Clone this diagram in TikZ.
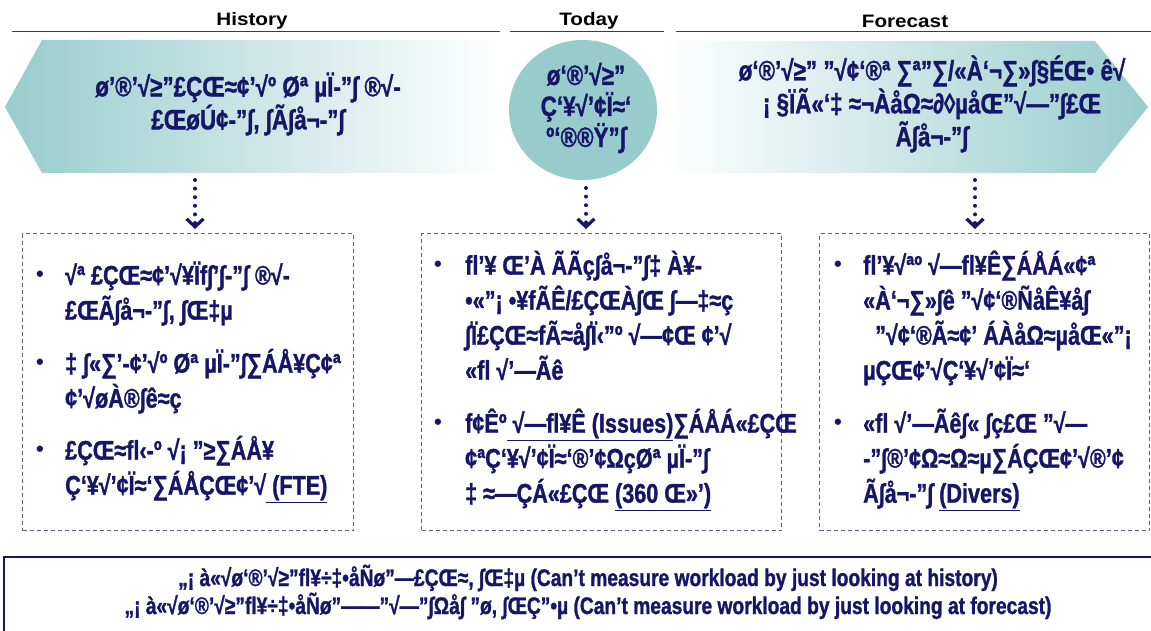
\documentclass[tikz,border=0pt]{standalone}
\usepackage{fontspec}
\setmainfont{Liberation Sans}
\newfontfamily\mj[FakeStretch=0.8,FakeBold=1.2]{Liberation Sans Bold}
\newfontfamily\hdrf[FakeStretch=1.15]{Liberation Sans Bold}
\usetikzlibrary{arrows.meta,shapes.geometric}
\definecolor{navy}{RGB}{22,22,105}
\definecolor{tealc}{RGB}{152,204,204}
\definecolor{boxc}{RGB}{95,95,145}
\definecolor{hlc}{RGB}{60,60,60}
\newcommand{\fl}{\rule{0pt}{26pt}}
\begin{document}
\begin{tikzpicture}[x=1pt,y=-1pt,
  hdr/.style={font=\hdrf\fontsize{18}{20}\selectfont, text=black, inner sep=0},
  hline/.style={draw=hlc, line width=1pt},
  big/.style={font=\mj\fontsize{28}{33}\selectfont, text=navy, align=center, inner sep=0},
  btxt/.style={font=\mj\fontsize{27}{35}\selectfont, text=navy, align=left, inner sep=0, anchor=north west},
  bul/.style={font=\bfseries\fontsize{22}{22}\selectfont, text=navy, inner sep=0},
  dbox/.style={draw=boxc, dash pattern=on 4pt off 3pt, line width=1.2pt, minimum height=297pt, inner sep=0, anchor=north west},
  dots/.style={draw=navy, line width=4pt, line cap=round, dash pattern=on 0pt off 8.6pt, shorten >=4pt, -{Straight Barb[length=8pt,width=17pt,line width=3.2pt]}},
  btm/.style={font=\mj\fontsize{24}{28}\selectfont, text=navy, align=center, inner sep=0}]
\useasboundingbox (0,0) rectangle (1151,631);
\fill[white] (0,0) rectangle (1151,631);
% headers
\draw[hline] (12,32) -- (500,32);
\draw[hline] (510,32) -- (664,32);
\draw[hline] (676,32) -- (1151,32);
\node[hdr] (hh) at (252,21) {History};
\node[hdr] (th) at (589,21) {Today};
\node[hdr] (fh) at (905,21) {Forecast};
% history arrow
\shade[left color=tealc, right color=white] (5,107) -- (42,40) -- (500,40) -- (500,173) -- (42,173) -- cycle;
\node[big] (ht) at (248,104) {ø’®’√≥”£ÇŒ≈¢’√º Øª µÏ-”∫ ®√-\\£ŒøÚ¢-”∫, ∫Ã∫å¬-”∫};
% today circle
\node[ellipse, fill=tealc, minimum width=148pt, minimum height=140pt, inner sep=0] (tc) at (583,110) {};
\node[big, font=\mj\fontsize{28}{31}\selectfont] (tt) at (586,108) {ø‘®’√≥”\\Ç‘¥√’¢Ï≈‘\\º‘®®Ÿ”∫};
% forecast arrow
\shade[left color=white, right color=tealc] (665,41) -- (1095,41) -- (1148,107) -- (1095,173) -- (665,173) -- cycle;
\node[big] (ft) at (932,104) {ø‘®’√≥” ”√¢‘®ª ∑ª”∑/«À‘¬∑»∫§ÉŒ• ê√\\¡ §ÏÃ«‘‡ ≈¬ÀåΩ≈∂◊µåŒ”√—”∫£Œ\\Ã∫å¬-”∫};
% boxes
\node[dbox, minimum width=331pt] (hbox) at (22,233) {};
\node[dbox, minimum width=360pt] (tbox) at (421,233) {};
\node[dbox, minimum width=330pt] (fbox) at (819,233) {};
% dotted connectors
\coordinate (ha) at (195,180);
\coordinate (ta) at (586,188);
\coordinate (fa) at (975,180);
\draw[dots] (ha) -- (ha |- hbox.north);
\draw[dots] (ta) -- (ta |- tbox.north);
\draw[dots] (fa) -- (fa |- fbox.north);
% history bullets
\node[bul] (hb1) at (40,276) {•};
\node[btxt] (hx1) at (65,258.5) {\fl √ª £ÇŒ≈¢’√¥Ïf∫’∫-”∫ ®√-\\£ŒÃ∫å¬-”∫, ∫Œ‡µ};
\node[bul] (hb2) at (40,364) {•};
\node[btxt] (hx2) at (65,346.5) {\fl ‡ ∫«∑’-¢’√º Øª µÏ-”∫∑ÁÅ¥Ç¢ª\\¢’√øÀ®∫ê≈ç};
\node[bul] (hb3) at (40,451) {•};
\node[btxt] (hx3) at (65,433.5) {\fl £ÇŒ≈fl‹-º √¡ ”≥∑ÁÅ¥\\Ç‘¥√’¢Ï≈‘∑ÁÅÇŒ¢’√\underline{ (FTE)}};
% today bullets
\node[bul] (tb1) at (438,266) {•};
\node[btxt] (tx1) at (465,248.5) {\fl fl’¥ Œ’À ÃÃç∫å¬-”∫‡ À¥-\\•«”¡ •¥fÃÊ/£ÇŒÀ∫Œ ∫—‡≈ç\\∫Ï£ÇŒ≈fÃ≈å∫Ï‹”º √—¢Œ ¢’√\\«fl √’—Ãê};
\node[bul] (tb2) at (438,424) {•};
\node[btxt] (tx2) at (465,406.5) {\fl f¢Êº\underline{ √—fl¥Ê (Issues)}∑ÁÅÁ«£ÇŒ\\¢ªÇ‘¥√’¢Ï≈‘®’¢ΩçØª µÏ-”∫\\‡ ≈—ÇÁ«£ÇŒ \underline{(360 Œ»’)}};
% forecast bullets
\node[bul] (fb1) at (838,266) {•};
\node[btxt] (fx1) at (863,248.5) {\fl fl’¥√ªº √—fl¥Ê∑ÁÅÁ«¢ª\\«À‘¬∑»∫ê ”√¢‘®ÑåÊ¥å∫\\\hspace*{12pt}”√¢‘®Ã≈¢’ ÁÀåΩ≈µåŒ«”¡\\µÇŒ¢’√Ç‘¥√’¢Ï≈‘};
\node[bul] (fb2) at (838,424) {•};
\node[btxt] (fx2) at (863,406.5) {\fl «fl √’—Ãê∫« ∫ç£Œ ”√—\\-”∫®’¢Ω≈Ω≈µ∑ÁÇŒ¢’√®’¢\\Ã∫å¬-”∫ \underline{(Divers)}};
% bottom box
\node[draw=navy, line width=2pt, minimum width=1165pt, minimum height=100pt, inner sep=0, anchor=north west] (bbox) at (3,556) {};
\node[btm] (bt) at (588,592) {„¡ à«√ø‘®’√≥”fl¥÷‡•åÑø”—£ÇŒ≈, ∫Œ‡µ (Can’t measure workload by just looking at history)\\„¡ à«√ø‘®’√≥”fl¥÷‡•åÑø”——”√—”∫Ωå∫ ”ø, ∫ŒÇ”•µ (Can’t measure workload by just looking at forecast)};
\end{tikzpicture}
\end{document}
